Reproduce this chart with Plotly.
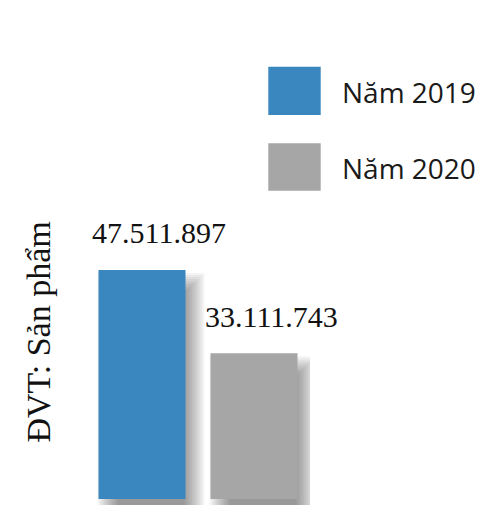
import plotly.graph_objects as go

# --- data -----------------------------------------------------------------
categories = ["Năm 2019", "Năm 2020"]
values = [47511897, 33111743]
value_labels = ["47.511.897", "33.111.743"]
colors = ["#3a86bf", "#a6a6a6"]
unit_title = "ĐVT: Sản phẩm"

# --- canvas / axis geometry ------------------------------------------------
W, H = 481, 505
ML, MR, MT, MB = 86, 171, 0, 0
PW, PH = W - ML - MR, H - MT - MB
AXIS_MIN, AXIS_MAX = 6.89e6, 94.18e6
BASELINE = 7.93e6          # value where the bars stand
BAR_WIDTH = 0.777          # in category units

px_per_cat = PW / 2.0
px_per_unit = PH / (AXIS_MAX - AXIS_MIN)


def paper_x(px):
    return (px - ML) / PW


def paper_y(py):
    return 1 - (py - MT) / PH


fig = go.Figure()

# soft drop shadow: stacked translucent layers growing around an offset core
SH_DX, SH_DY = 9, 13
SPREAD = range(-10, 11, 2)
layer_alpha = 1 - 0.62 ** (1 / len(SPREAD))
for cat, val in zip(categories, values):
    for e in SPREAD:
        w = (BAR_WIDTH * px_per_cat + 2 * e) / px_per_cat
        off = (-BAR_WIDTH * px_per_cat / 2 + SH_DX - e) / px_per_cat
        top = val - (SH_DY - e) / px_per_unit
        base = AXIS_MIN - 2e6
        fig.add_trace(go.Bar(
            x=[cat], y=[top - base], base=[base],
            width=[w], offset=[off],
            marker=dict(color=f"rgba(0,0,0,{layer_alpha:.4f})", line=dict(width=0)),
            showlegend=False, hoverinfo="skip",
        ))

# main bars
for cat, val, col in zip(categories, values, colors):
    fig.add_trace(go.Bar(
        x=[cat], y=[val - BASELINE], base=[BASELINE],
        width=[BAR_WIDTH], offset=[-BAR_WIDTH / 2],
        marker=dict(color=col, line=dict(width=0)),
        name=cat, showlegend=False,
    ))

# value labels above the bars
for cat, val, lab in zip(categories, values, value_labels):
    fig.add_annotation(
        x=cat, y=val, text=lab, showarrow=False,
        xanchor="center", yanchor="middle", xshift=17, yshift=37,
        font=dict(family="Liberation Serif", size=30, color="#111111"),
    )

# legend drawn as large swatches with labels
legend_rows = [(66.7, 115.0), (143.3, 190.7)]
for (y0, y1), cat, col in zip(legend_rows, categories, colors):
    fig.add_shape(
        type="rect", xref="paper", yref="paper",
        x0=paper_x(268.3), x1=paper_x(320.7),
        y0=paper_y(y1), y1=paper_y(y0),
        fillcolor=col, line=dict(width=0),
    )
    fig.add_annotation(
        xref="paper", yref="paper",
        x=paper_x(340), y=paper_y((y0 + y1) / 2 + 1),
        text=cat, showarrow=False, xanchor="left", yanchor="middle",
        font=dict(family="Open Sans", size=28, color="#1a1a1a"),
    )

# unit title along the left edge
fig.add_annotation(
    xref="paper", yref="paper",
    x=paper_x(37.5), y=paper_y(332),
    text=unit_title, showarrow=False, textangle=-90,
    xanchor="center", yanchor="middle",
    font=dict(family="Liberation Serif", size=34, color="#111111"),
)

fig.update_layout(
    width=W, height=H,
    margin=dict(l=ML, r=MR, t=MT, b=MB, pad=0),
    barmode="overlay",
    paper_bgcolor="white", plot_bgcolor="white",
    xaxis=dict(range=[-0.5, 1.5], visible=False, categoryorder="array",
               categoryarray=categories),
    yaxis=dict(range=[AXIS_MIN, AXIS_MAX], visible=False),
    showlegend=False,
)

fig.write_html("out.html")
